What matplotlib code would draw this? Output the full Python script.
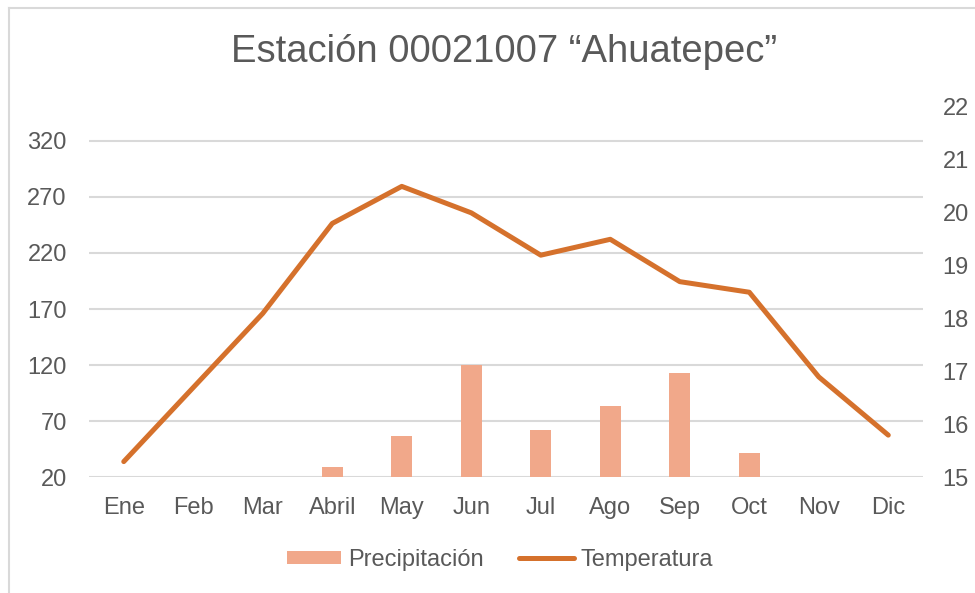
import numpy as np
import matplotlib
matplotlib.use("Agg")
import matplotlib.pyplot as plt
from matplotlib.lines import Line2D

plt.rcParams['font.family'] = ['Liberation Sans', 'DejaVu Sans']

# data
meses = ['Ene', 'Feb', 'Mar', 'Abril', 'May', 'Jun', 'Jul', 'Ago', 'Sep', 'Oct', 'Nov', 'Dic']
precipitacion = [0, 0, 0, 29, 57, 120, 62.5, 84, 113, 42, 0, 0]
temperatura = [15.3, 16.7, 18.1, 19.8, 20.5, 20.0, 19.2, 19.5, 18.7, 18.5, 16.9, 15.8]

left_ticks = [20, 70, 120, 170, 220, 270, 320]
right_ticks = [15, 16, 17, 18, 19, 20, 21, 22]

txt = '#595959'
bar_col = '#F1A88A'
line_col = '#D5712C'
grid_col = '#D9D9D9'

fig = plt.figure(figsize=(9.75, 5.93), dpi=100)
ax = fig.add_axes([0.0913, 0.1948, 0.8554, 0.6248])

x = np.arange(len(meses))
bars = ax.bar(x, precipitacion, width=0.3, color=bar_col, zorder=2,
              label='Precipitación')
ax.set_ylim(20, 350)
ax.set_yticks(left_ticks)
ax.set_xlim(-0.5, len(meses) - 0.5)
ax.set_xticks(x)
ax.set_xticklabels(meses)
ax.grid(axis='y', color=grid_col, linewidth=1.5, zorder=0)
ax.set_axisbelow(True)
ax.tick_params(axis='both', length=0, labelsize=17, colors=txt)
ax.tick_params(axis='y', pad=16)
ax.tick_params(axis='x', pad=14)
for s in ax.spines.values():
    s.set_visible(False)

ax2 = ax.twinx()
ln, = ax2.plot(x, temperatura, color=line_col, linewidth=3.6,
               solid_capstyle='round', solid_joinstyle='round',
               label='Temperatura')
ax2.set_ylim(15, 22)
ax2.set_yticks(right_ticks)
ax2.tick_params(axis='y', length=0, labelsize=17, colors=txt, pad=14)
for s in ax2.spines.values():
    s.set_visible(False)

fig.text(0.517, 0.913, 'Estación 00021007 “Ahuatepec”', ha='center', va='center',
         fontsize=27.5, color=txt)

fig.legend(handles=[bars, ln], loc='center', bbox_to_anchor=(0.513, 0.056),
           ncol=2, frameon=False, fontsize=17, labelcolor=txt,
           handlelength=2.3, handleheight=0.5, handletextpad=0.3,
           columnspacing=1.5)

# chart border (left and top visible)
fig.add_artist(Line2D([9 / 975, 9 / 975], [0, 1 - 8 / 593], transform=fig.transFigure,
                      color=grid_col, linewidth=1.5))
fig.add_artist(Line2D([9 / 975, 1], [1 - 8 / 593, 1 - 8 / 593], transform=fig.transFigure,
                      color=grid_col, linewidth=1.5))

fig.savefig('out.png', dpi=100, facecolor='white')
